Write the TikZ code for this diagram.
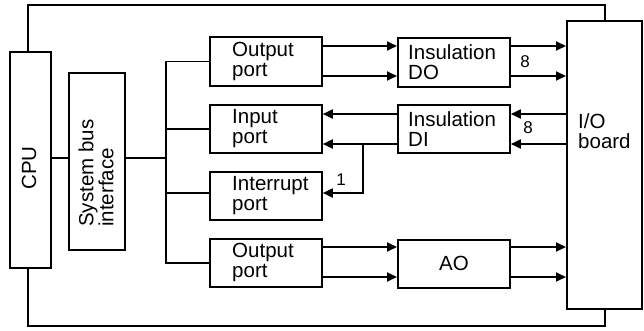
\documentclass[tikz,border=0pt]{standalone}
\usepackage{fontspec}
\setmainfont{Liberation Sans}
\usetikzlibrary{arrows.meta}
\tikzset{
  box/.style={draw, line width=1.8pt, rectangle, inner sep=0pt, anchor=north west},
  txt/.style={inner sep=0pt, align=left, font=\fontsize{20.5}{20}\selectfont},
  small/.style={inner sep=0pt, font=\fontsize{17}{17}\selectfont},
  wire/.style={line width=1.8pt},
  arr/.style={line width=1.8pt, -{Triangle[length=10pt,width=9pt]}}
}
\begin{document}
\begin{tikzpicture}[x=1pt,y=-1pt]
\useasboundingbox (0,0) rectangle (644,330);
% boxes
\node[box, minimum width=41pt, minimum height=216pt] (cpu) at (9,51) {};
\node[box, minimum width=56pt, minimum height=177pt] (sbi) at (68,72) {};
\node[box, minimum width=112pt, minimum height=49pt] (op1) at (209,36) {};
\node[box, minimum width=112pt, minimum height=48pt] (ip) at (209,104) {};
\node[box, minimum width=112pt, minimum height=48pt] (irq) at (209,171) {};
\node[box, minimum width=112pt, minimum height=48pt] (op2) at (209,238) {};
\node[box, minimum width=112pt, minimum height=49pt] (ido) at (397,37) {};
\node[box, minimum width=112pt, minimum height=48pt] (idi) at (397,104) {};
\node[box, minimum width=112pt, minimum height=48pt] (ao) at (397,239) {};
\node[box, minimum width=75pt, minimum height=288pt] (io) at (566,20) {};
% texts
\node[txt, rotate=90] (tcpu) at (29,168) {CPU};
\node[txt, rotate=90, anchor=west] (tsbi) at (96,227) {System bus\\interface};
\node[txt, anchor=west] (top1) at ([xshift=23pt]op1.west) {Output\\port};
\node[txt, anchor=west] (tip) at ([xshift=23pt]ip.west) {Input\\port};
\node[txt, anchor=west] (tirq) at ([xshift=23pt]irq.west) {Interrupt\\port};
\node[txt, anchor=west] (top2) at ([xshift=23pt]op2.west) {Output\\port};
\node[txt, anchor=west] (tido) at ([xshift=11pt]ido.west) {Insulation\\DO};
\node[txt, anchor=west] (tidi) at ([xshift=11pt]idi.west) {Insulation\\DI};
\node[txt] (tao) at (ao.center) {AO};
\node[txt, anchor=west] (tio) at (578,131) {I/O\\board};
\node[small] (n8a) at (525,62) {8};
\node[small] (n8b) at (528,128) {8};
\node[small] (n1) at (341,180) {1};
% coordinates
\coordinate (bus) at (166,158);
\coordinate (br) at (363,144);
\coordinate (brd) at (363,193);
\coordinate (tl) at (28,5);
\coordinate (tr) at (605,5);
\coordinate (bl) at (28,326);
\coordinate (brr) at (605,326);
% bus wiring
\draw[wire] (cpu.east |- bus) -- (sbi.west |- bus);
\draw[wire] (sbi.east |- bus) -- (bus);
\draw[wire] (op1.west) -| (bus) |- (op2.west);
\draw[wire] (ip.west) -- (ip.west -| bus);
\draw[wire] (irq.west |- brd) -- (brd -| bus);
% outer loop
\draw[wire] (cpu.north -| tl) -- (tl) -- (tr) -- (io.north -| tr);
\draw[wire] (cpu.south -| bl) -- (bl) -- (brr) -- (io.south -| brr);
% DO path
\draw[arr] (op1.east |- 0,46) -- (ido.west |- 0,46);
\draw[arr] (op1.east |- 0,76) -- (ido.west |- 0,76);
\draw[arr] (ido.east |- 0,46) -- (io.west |- 0,46);
\draw[arr] (ido.east |- 0,76) -- (io.west |- 0,76);
% DI path
\draw[arr] (io.west |- 0,114) -- (idi.east |- 0,114);
\draw[arr] (io.west |- 0,144) -- (idi.east |- 0,144);
\draw[arr] (idi.west |- 0,114) -- (ip.east |- 0,114);
\draw[arr] (idi.west |- 0,144) -- (ip.east |- 0,144);
\draw[arr] (br) -- (brd) -- (irq.east |- brd);
% AO path
\draw[arr] (op2.east |- 0,247) -- (ao.west |- 0,247);
\draw[arr] (op2.east |- 0,277) -- (ao.west |- 0,277);
\draw[arr] (ao.east |- 0,247) -- (io.west |- 0,247);
\draw[arr] (ao.east |- 0,277) -- (io.west |- 0,277);
\end{tikzpicture}
\end{document}
